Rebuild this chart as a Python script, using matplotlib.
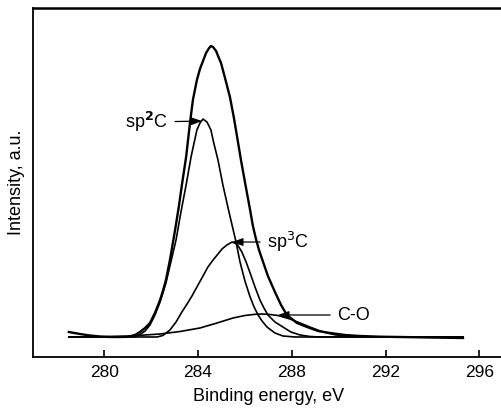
import matplotlib.pyplot as plt

plt.rcParams['font.family'] = ['Liberation Sans', 'DejaVu Sans']

# binding energy (eV) and intensity (a.u.)
total_energy = [278.49, 278.96, 279.39, 279.82, 280.24, 280.67, 281.01, 281.31,
                281.52, 281.74, 281.95, 282.16, 282.38, 282.50, 282.63, 282.80,
                283.02, 283.19, 283.31, 283.49, 283.66, 283.78, 283.95,
                284.08, 284.21, 284.34, 284.47, 284.55, 284.64, 284.77, 284.89,
                284.98, 285.15, 285.36, 285.53, 285.66, 285.83, 286.00, 286.22,
                286.34, 286.47, 286.60, 286.73, 286.98, 287.28, 287.54, 287.79,
                288.22, 288.65, 289.12, 289.63, 290.27, 290.91, 291.76, 292.62,
                293.90, 295.30]
total_int = [0.5, 0.3, 0.15, 0.05, 0.0, 0.0, 0.02, 0.2,
             0.5, 0.9, 1.4, 2.4, 3.7, 4.6, 5.7, 7.7,
             10.7, 13.2, 15.2, 18.0, 21.5, 23.7, 25.7,
             26.8, 27.6, 28.4, 28.9, 29.1, 29.0, 28.6, 27.9,
             27.4, 25.9, 24.0, 21.9, 20.1, 17.7, 15.5, 12.7,
             11.1, 9.8, 8.7, 7.8, 6.1, 4.5, 3.2, 2.2,
             1.4, 1.0, 0.6, 0.4, 0.2, 0.1, 0.03, 0.0,
             -0.05, -0.1]

sp2_energy = [278.49, 281.01, 281.31, 281.52, 281.74, 281.95, 282.16, 282.38,
              282.63, 282.80, 283.06, 283.27, 283.49, 283.70, 283.95, 284.08,
              284.21, 284.38, 284.55, 284.64, 284.85, 285.06, 285.32, 285.62,
              285.79, 286.00, 286.22, 286.39, 286.56, 286.73, 286.94, 287.28,
              287.62, 288.14, 295.30]
sp2_int = [0.0, 0.0, 0.04, 0.25, 0.6, 1.2, 2.2, 3.5,
           5.4, 7.1, 9.7, 12.5, 15.2, 18.0, 20.7, 21.4,
           21.8, 21.5, 20.7, 19.7, 17.7, 15.2, 12.5, 9.5,
           7.5, 5.6, 4.0, 3.0, 2.2, 1.6, 1.0, 0.4,
           0.1, 0.0, 0.0]

sp3_energy = [278.49, 282.25, 282.50, 282.80, 283.06, 283.31, 283.53, 283.74,
              283.95, 284.21, 284.42, 284.64, 284.85, 285.02, 285.23, 285.45,
              285.66, 285.87, 286.05, 286.22, 286.43, 286.64, 286.81, 286.98,
              287.28, 287.62, 287.96, 288.35, 288.78, 289.20, 295.30]
sp3_int = [0.0, 0.0, 0.15, 0.7, 1.5, 2.5, 3.3, 4.1,
           5.0, 6.1, 7.0, 7.7, 8.3, 8.8, 9.2, 9.5,
           9.3, 8.5, 7.5, 6.4, 5.0, 3.7, 2.9, 2.2,
           1.5, 1.0, 0.5, 0.2, 0.05, 0.0, 0.0]

co_energy = [278.49, 279.82, 281.10, 282.38, 283.23, 284.08, 284.81, 285.49,
             286.00, 286.43, 286.73, 287.07, 287.41, 287.92, 288.35, 288.82,
             289.33, 289.84, 290.27, 290.91, 291.76, 295.30]
co_int = [0.0, 0.02, 0.1, 0.3, 0.55, 0.9, 1.4, 1.9,
          2.15, 2.27, 2.3, 2.25, 2.15, 1.8, 1.4, 0.95,
          0.5, 0.22, 0.1, 0.02, 0.0, 0.0]

x_ticks = [280, 284, 288, 292, 296]

fig = plt.figure(figsize=(5.01, 4.11), dpi=100)
ax = fig.add_axes([0.0659, 0.1314, 0.934, 0.849])

ax.plot(total_energy, total_int, color='black', lw=1.7, solid_joinstyle='round')
ax.plot(sp2_energy, sp2_int, color='black', lw=1.2, solid_joinstyle='round')
ax.plot(sp3_energy, sp3_int, color='black', lw=1.2, solid_joinstyle='round')
ax.plot(co_energy, co_int, color='black', lw=1.2, solid_joinstyle='round')

arrow = dict(arrowstyle='-|>,head_length=0.5,head_width=0.18', color='black',
             lw=0.9, shrinkA=3, shrinkB=0)
ax.annotate('sp$^\\mathbf{2}$C', xy=(284.17, 21.6), xytext=(282.72, 21.5),
            ha='right', va='center', fontsize=13, arrowprops=arrow)
ax.annotate('sp$^3$C', xy=(285.45, 9.5), xytext=(286.94, 9.5),
            ha='left', va='center', fontsize=13, arrowprops=arrow)
ax.annotate('C-O', xy=(287.41, 2.2), xytext=(289.93, 2.2),
            ha='left', va='center', fontsize=13, arrowprops=arrow)

ax.set_xlim(276.96, 296.92)
ax.set_ylim(-2.0, 32.9)
ax.set_xticks(x_ticks)
ax.set_yticks([])
ax.tick_params(axis='x', direction='in', length=5, width=1.2, labelsize=12.5, pad=6)
ax.spines['right'].set_visible(False)
ax.spines['top'].set_linewidth(1.8)
ax.spines['left'].set_linewidth(1.3)
ax.spines['bottom'].set_linewidth(1.3)

ax.set_xlabel('Binding energy, eV', fontsize=13)
ax.set_ylabel('Intensity, a.u.', fontsize=13)
ax.xaxis.set_label_coords(0.503, -0.09)
ax.yaxis.set_label_coords(-0.017, 0.5)

plt.savefig('out.png', dpi=100)
